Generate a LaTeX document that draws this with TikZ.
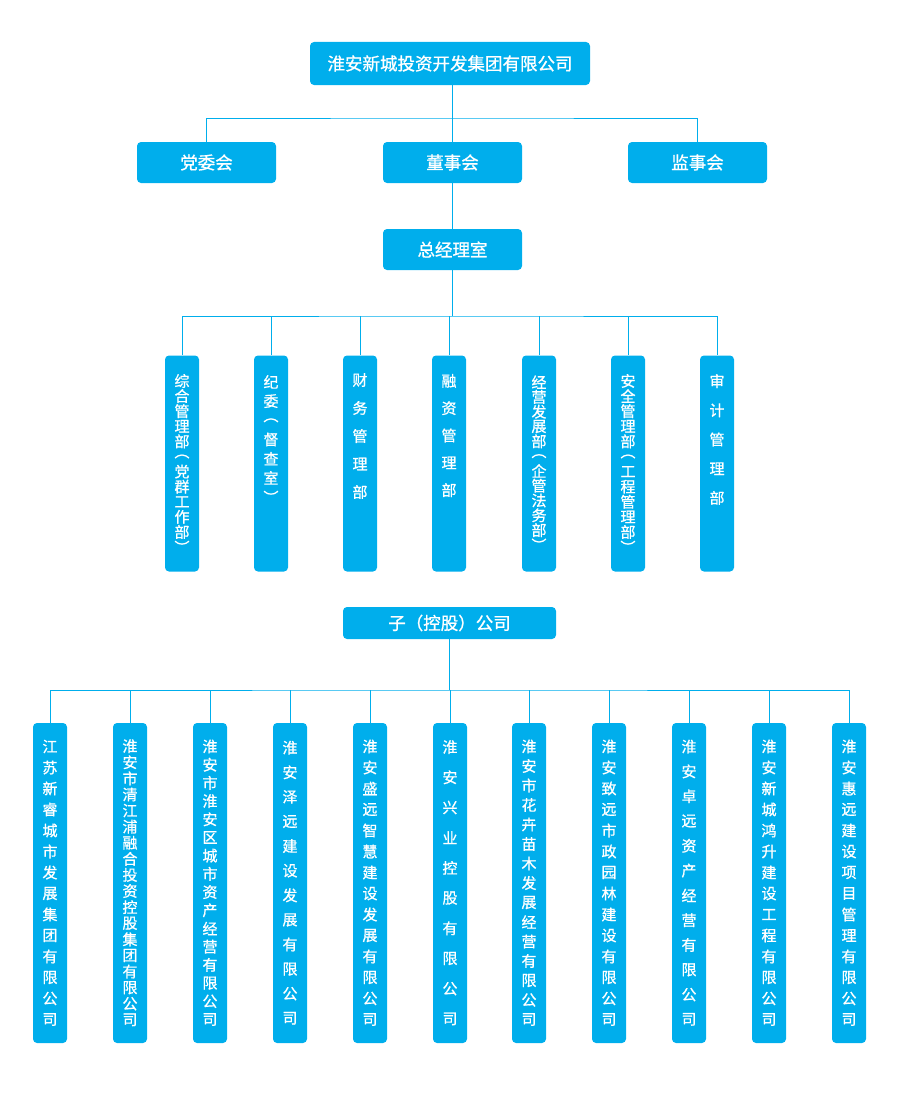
\documentclass[tikz,border=0pt]{standalone}
\usepackage{fontspec}
\setmainfont{Noto Sans CJK SC}[FakeBold=0.9]
\definecolor{boxblue}{RGB}{0,174,236}
\makeatletter
\newdimen\vpitch
\def\vtxt#1#2{\vpitch=#1pt\relax\vbox{\offinterlineskip\vtxt@loop#2\@nil}}
\def\vtxt@loop#1{\ifx\@nil#1\else\hbox to 16pt{\hss\vbox to\vpitch{\vss\hbox{#1}\vss}\hss}\expandafter\vtxt@loop\fi}
\makeatother
\tikzset{
  hbox/.style={fill=boxblue, rounded corners=4pt, text=white, inner sep=0pt,
    font=\fontsize{17.5}{20}\selectfont},
  deptbox/.style={fill=boxblue, rounded corners=4pt, inner sep=0pt,
    minimum width=34pt, minimum height=216pt},
  depttext/.style={text=white, inner sep=0pt, font=\fontsize{15}{18}\selectfont},
  subbox/.style={fill=boxblue, rounded corners=4pt, inner sep=0pt, text=white,
    minimum width=34pt, minimum height=320pt, font=\fontsize{15}{18}\selectfont},
  link/.style={draw=boxblue, line width=1pt},
}
\begin{document}
\begin{tikzpicture}[x=1pt,y=-1pt]
\useasboundingbox (0,0) rectangle (900,1116);
% top level
\node[hbox, minimum width=280pt, minimum height=43pt] (top) at (450,63.5) {淮安新城投资开发集团有限公司};
\node[hbox, minimum width=139pt, minimum height=41pt] (dw) at (206.5,162.5) {党委会};
\node[hbox, minimum width=139pt, minimum height=41pt] (dsh) at (452.5,162.5) {董事会};
\node[hbox, minimum width=139pt, minimum height=41pt] (jsh) at (697.5,162.5) {监事会};
\node[hbox, minimum width=139pt, minimum height=41pt] (zjl) at (452.5,249.5) {总经理室};
\coordinate (bus1) at (452.5,118);
\draw[link] (dsh.north) -- (dsh.north |- top.south);
\draw[link] (dw.north) |- (bus1) -| (jsh.north);
\draw[link] (dsh.south) -- (zjl.north);
% departments
\coordinate (bus2) at (452.5,316);
\node[deptbox] (d1) at (182,463.5) {};
\node[deptbox] (d2) at (271,463.5) {};
\node[deptbox] (d3) at (360,463.5) {};
\node[deptbox] (d4) at (449,463.5) {};
\node[deptbox] (d5) at (539,463.5) {};
\node[deptbox] (d6) at (628,463.5) {};
\node[deptbox] (d7) at (717,463.5) {};
\node[depttext] (t1) at (182,464) {\vtxt{15.1}{综合管理部︵党群工作部︶}};
\node[depttext] (t2) at (271,439.5) {\vtxt{19.2}{纪委︵督查室︶}};
\node[depttext] (t3) at (360,436) {\vtxt{28}{财务管理部}};
\node[depttext] (t4) at (449,435.5) {\vtxt{27.3}{融资管理部}};
\node[depttext] (t5) at (539,463.5) {\vtxt{14.8}{经营发展部︵企管法务部︶}};
\node[depttext] (t6) at (628,464) {\vtxt{15.1}{安全管理部︵工程管理部︶}};
\node[depttext] (t7) at (717,439.5) {\vtxt{29.2}{审计管理部}};
\draw[link] (zjl.south) -- (bus2);
\draw[link] (d1.north) |- (bus2) -| (d7.north);
\foreach \i in {2,...,6} \draw[link] (d\i.north) -- (d\i.north |- bus2);
% subsidiaries
\node[hbox, minimum width=213pt, minimum height=32pt] (zg) at (449.5,623) {子（控股）公司};
\coordinate (bus3) at (449.5,690);
\node[subbox] (s1) at (50,883) {\vtxt{21}{江苏新睿城市发展集团有限公司}};
\node[subbox] (s2) at (130,883) {\vtxt{16.1}{淮安市清江浦融合投资控股集团有限公司}};
\node[subbox] (s3) at (210,883) {\vtxt{18.2}{淮安市淮安区城市资产经营有限公司}};
\node[subbox] (s4) at (290,883) {\vtxt{24.6}{淮安泽远建设发展有限公司}};
\node[subbox] (s5) at (370,883) {\vtxt{21}{淮安盛远智慧建设发展有限公司}};
\node[subbox] (s6) at (450,883) {\vtxt{30.2}{淮安兴业控股有限公司}};
\node[subbox] (s7) at (529,883) {\vtxt{19.5}{淮安市花卉苗木发展经营有限公司}};
\node[subbox] (s8) at (609,883) {\vtxt{21}{淮安致远市政园林建设有限公司}};
\node[subbox] (s9) at (689,883) {\vtxt{24.8}{淮安卓远资产经营有限公司}};
\node[subbox] (s10) at (769,883) {\vtxt{21}{淮安新城鸿升建设工程有限公司}};
\node[subbox] (s11) at (849,883) {\vtxt{21}{淮安惠远建设项目管理有限公司}};
\draw[link] (zg.south) -- (bus3);
\draw[link] (s1.north) |- (bus3) -| (s11.north);
\foreach \i in {2,...,10} \draw[link] (s\i.north) -- (s\i.north |- bus3);
\end{tikzpicture}
\end{document}
